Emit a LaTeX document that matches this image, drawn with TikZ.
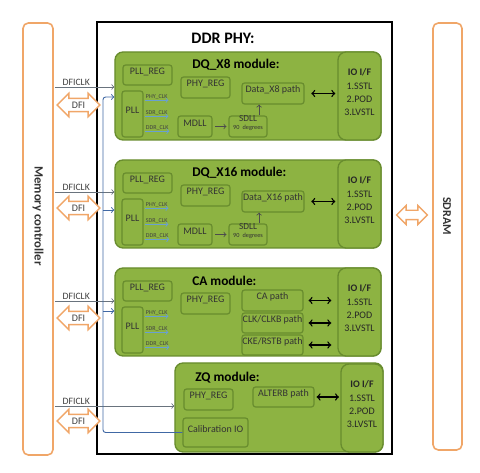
\documentclass[tikz,border=0pt]{standalone}
\usepackage{fontspec}
\setmainfont{Carlito}
\usetikzlibrary{arrows}
\usetikzlibrary{fit}
\usetikzlibrary{shapes.arrows}

\definecolor{modfill}{RGB}{141,179,66}
\definecolor{moddraw}{RGB}{104,140,46}
\definecolor{ifdraw}{RGB}{240,166,104}
\definecolor{busblue}{RGB}{64,104,164}
\definecolor{clkblue}{RGB}{105,160,210}
\definecolor{clkgray}{RGB}{105,115,125}

\tikzset{
  module/.style={draw=moddraw,fill=modfill,line width=1pt,rounded corners=6pt,inner sep=0pt},
  blk/.style={draw=moddraw,fill=modfill,line width=0.9pt,rounded corners=2pt,inner sep=0pt,
    font=\fontsize{7.5}{8}\selectfont,text=black!80},
  iobox/.style={module,align=left,text=black!85,font=\fontsize{7.5}{10}\selectfont},
  side/.style={draw=ifdraw,fill=white,line width=1.2pt,rounded corners=4pt,inner sep=0pt},
  dfiarrow/.style={double arrow,draw=ifdraw,fill=white,line width=1.1pt,inner xsep=1pt,inner ysep=2pt,
    double arrow head extend=3.8pt,minimum height=32pt,text=black!75,font=\fontsize{7.5}{8}\selectfont},
  title/.style={anchor=west,inner sep=0pt,font=\bfseries\fontsize{10}{12}\selectfont},
  lbl/.style={anchor=south west,inner sep=1pt,text=black!75,font=\fontsize{7.3}{8}\selectfont},
  clktxt/.style={anchor=west,inner sep=0.5pt,text=black!75,font=\fontsize{4.5}{5}\selectfont},
  clkline/.style={->,draw=clkgray,line width=0.6pt},
  busline/.style={->,draw=busblue,line width=0.7pt},
  inner/.style={->,draw=black!70,line width=0.6pt},
  pathlink/.style={<->,draw=black,line width=1pt}
}

\begin{document}
\begin{tikzpicture}[x=0.75pt,y=-0.75pt]
  % Boundary
  \useasboundingbox (0,0) rectangle (480,473);
  % Memory controller and SDRAM
  \node[side,fit={(23,23) (53,455)}] (mc) {};
  \node[rotate=-90,font=\bfseries\fontsize{9.5}{10}\selectfont,text=black!80] (mctext) at (38,216) {Memory controller};
  \node[side,fit={(433,23) (462,450)}] (sdram) {};
  \node[rotate=-90,font=\bfseries\fontsize{9}{10}\selectfont,text=black!80] (sdramtext) at (447,216) {SDRAM};
  \node[dfiarrow,minimum height=23pt,inner ysep=3pt,double arrow head extend=3.5pt] (memlink) at (412,215) {};
  % DDR PHY
  \node[draw,line width=1.3pt,inner sep=0pt,fit={(97,22) (392,454)}] (phy) {};
  \node[font=\bfseries\fontsize{12}{13}\selectfont] (phytitle) at (223,38) {DDR PHY:};
  % Modules with a PLL
  \foreach \m/\yo/\t in {dqa/0/DQ\_X8 module:,dqb/108/DQ\_X16 module:,ca/216/CA module:} {
    \node[module,fit={(115,{52+\yo}) (381,{140+\yo})}] (\m) {};
    \node[title] (\m title) at (192,{65+\yo}) {\t};
    \node[iobox,fit={(338,{52+\yo}) (381,{140+\yo})}] (\m io) {\textbf{IO I/F}\\1.SSTL\\2.POD\\3.LVSTL};
    \node[blk,fit={(123,{65+\yo}) (172,{85+\yo})}] (\m pllreg) {PLL\_REG};
    \node[blk,fit={(122,{91+\yo}) (143,{137+\yo})}] (\m pll) {PLL};
    \node[blk,fit={(181,{77+\yo}) (230,{98+\yo})}] (\m phyreg) {PHY\_REG};
    \foreach \c/\cy in {PHY/97,SDR/113,DDR/128} {
      \node[clktxt] (\m\c) at (145,{\cy+\yo}) {\c\_CLK};
      \draw[->,draw=clkblue,line width=0.6pt] (\m\c.south west) -- (\m\c.south east);
    }
  }
  % DQ paths
  \foreach \m/\yo/\p in {dqa/0/Data\_X8 path,dqb/108/Data\_X16 path} {
    \node[blk,fit={(178,{116+\yo}) (212,{137+\yo})}] (\m mdll) {MDLL};
    \node[blk,fit={(229,{116+\yo}) (267,{137+\yo})},align=center,font=\fontsize{7}{6}\selectfont]
      (\m sdll) {SDLL\\\fontsize{4.7}{5}\selectfont 90 degrees};
    \node[blk,fit={(242,{83+\yo}) (304,{104+\yo})}] (\m data) {\p};
    \draw[inner,shorten <=2pt,shorten >=1.5pt] (\m mdll.east) -- (\m sdll.west);
    \draw[inner] (\m sdll.45) -- (\m sdll.45 |- \m data.south);
    \draw[pathlink,shorten <=5pt,shorten >=1.5pt] (\m data.east) -- (\m data.east -| \m io.west);
  }
  % CA paths
  \node[blk,fit={(242,290) (303,311)}] (capath) {CA path};
  \node[blk,fit={(242,313) (303,333)}] (clkpath) {CLK/CLKB path};
  \node[blk,fit={(242,335) (303,355)}] (ckepath) {CKE/RSTB path};
  \foreach \n in {capath,clkpath,ckepath}
    \draw[pathlink,shorten <=3.75pt,shorten >=4.5pt] (\n.east) -- (\n.east -| caio.west);
  % ZQ module
  \node[module,fit={(175,363) (383,452)}] (zq) {};
  \node[title] (zqtitle) at (195,378) {ZQ module:};
  \node[iobox,fit={(341,364) (383,452)}] (zqio) {\textbf{IO I/F}\\1.SSTL\\2.POD\\3.LVSTL};
  \node[blk,fit={(184,389) (233,410)}] (zqphyreg) {PHY\_REG};
  \node[blk,fit={(183,418) (248,447)}] (cal) {Calibration IO};
  \node[blk,fit={(253,387) (314,407)}] (alterb) {ALTERB path};
  \draw[pathlink,shorten <=1.5pt,shorten >=1pt] (alterb.east) -- (alterb.east -| zqio.west);
  % DFI interface
  \foreach \m/\cy/\dy in {dqa/87/105,dqb/192/208,ca/301/318,zq/406/421} {
    \coordinate (ck\m) at (55,\cy);
    \draw[clkline] (ck\m) -- (ck\m -| \m.west);
    \node[lbl] (ckl\m) at (61,\cy) {DFICLK};
    \node[dfiarrow] (dfi\m) at (78.5,\dy) {DFI};
  }
  % Clock bus
  \coordinate (busa) at (103,97);
  \coordinate (busb) at (103,210);
  \coordinate (busc) at (103,311);
  \draw[busline,rounded corners=2pt] (cal.west) -| (busa) -- (busa -| dqa.west);
  \draw[busline] (busb) -- (busb -| dqb.west);
  \draw[busline] (busc) -- (busc -| ca.west);
\end{tikzpicture}
\end{document}
